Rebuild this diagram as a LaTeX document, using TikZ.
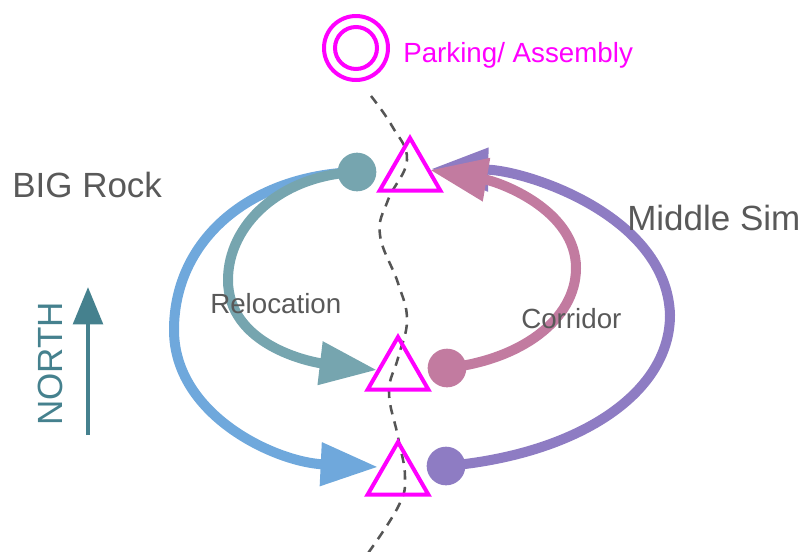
\documentclass[tikz,border=0pt]{standalone}
\usepackage{fontspec}
\setmainfont{Liberation Sans}
\usetikzlibrary{arrows.meta,shapes.geometric}
\definecolor{cblue}{HTML}{6FA8DC}
\definecolor{cteal}{HTML}{76A5AF}
\definecolor{cpink}{HTML}{C27BA0}
\definecolor{cpurple}{HTML}{8E7CC3}
\definecolor{cnorth}{HTML}{45818E}
\definecolor{cgray}{HTML}{595959}
\definecolor{cmag}{HTML}{FF00FF}
\definecolor{cdash}{HTML}{555555}
\begin{document}
\begin{tikzpicture}[x=0.75pt,y=-0.75pt,
  bigtext/.style={font=\fontsize{26.25}{30}\selectfont, text=cgray, inner sep=0pt, anchor=base west},
  midtext/.style={font=\fontsize{20.8}{24}\selectfont, text=cgray, inner sep=0pt, anchor=base west},
  flowline/.style={line width=7.5pt, -{Triangle[length=43pt,width=31pt]}},
  flowdot/.style={circle, minimum size=29pt, inner sep=0pt},
  stop/.style={regular polygon, regular polygon sides=3, minimum size=52.5pt, inner sep=0pt, draw=cmag, line width=3pt},
  ring/.style={circle, draw=cmag, line width=3pt, inner sep=0pt},
  dashline/.style={draw=cdash, line width=1.9pt, dash pattern=on 7pt off 5.5pt}]
\useasboundingbox (0,0) rectangle (807,551);

% dashed route
\draw[dashline] plot[smooth, tension=0.7] coordinates {(371,96) (392,126) (407,160) (388,200) (380,235) (398,283) (407,320) (398,358) (389,392) (398,437) (405,477) (398,507) (366,556)};

% parking
\node[ring, minimum size=48pt] (park) at (356,48) {};
\node[ring, minimum size=31.5pt] (parkin) at (356,48) {};
\node[font=\fontsize{20.8}{24}\selectfont, text=cmag, inner sep=0pt, anchor=base west] (parklabel) at (403,62) {Parking/ Assembly};

% dots and triangles
\node[flowdot] (tdot) at (357,172) {};
\node[flowdot] (pdot) at (447,368) {};
\node[flowdot] (udot) at (446,466) {};
\coordinate (tealtip) at (377,370);
\coordinate (bluetip) at (378,467);
\coordinate (pinktip) at (430,170);
\coordinate (purptip) at (431,169);

% arrows
\draw[flowline, cblue] (tdot.center) .. controls (250,175) and (174,240) .. (174,330) .. controls (174,415) and (275,462) .. (bluetip);
\draw[flowline, cteal] (tdot.center) .. controls (280,175) and (228,225) .. (228,280) .. controls (228,345) and (310,362) .. (tealtip);
\draw[flowline, cpurple] (udot.center) .. controls (575,455) and (670,395) .. (670,315) .. controls (667,215) and (525,170) .. (purptip);
\draw[flowline, cpink] (pdot.center) .. controls (520,360) and (576,320) .. (576,268) .. controls (576,210) and (500,182) .. (pinktip);

\fill[cteal] (tdot) circle (14.5pt);
\fill[cpink] (pdot) circle (14.5pt);
\fill[cpurple] (udot) circle (14.5pt);

\node[stop] (ttri) at (410,173) {};
\node[stop] (mtri) at (398,372) {};
\node[stop] (btri) at (398,477) {};

% labels
\node[bigtext] (bigrock) at (12,197) {BIG Rock};
\node[bigtext] (middlesim) at (627,230) {Middle Sim};
\node[midtext] (reloc) at (210,313) {Relocation};
\node[midtext] (corr) at (521,328) {Corridor};

% north
\node[font=\fontsize{26.25}{30}\selectfont, text=cnorth, inner sep=0pt, rotate=90, anchor=base west] (northlabel) at (62,426) {NORTH};
\coordinate (nbase) at (88,435);
\coordinate (ntip) at (88,287);
\draw[cnorth, line width=3.5pt, -{Triangle[length=28pt,width=22pt]}] (nbase) -- (ntip);
\end{tikzpicture}
\end{document}
